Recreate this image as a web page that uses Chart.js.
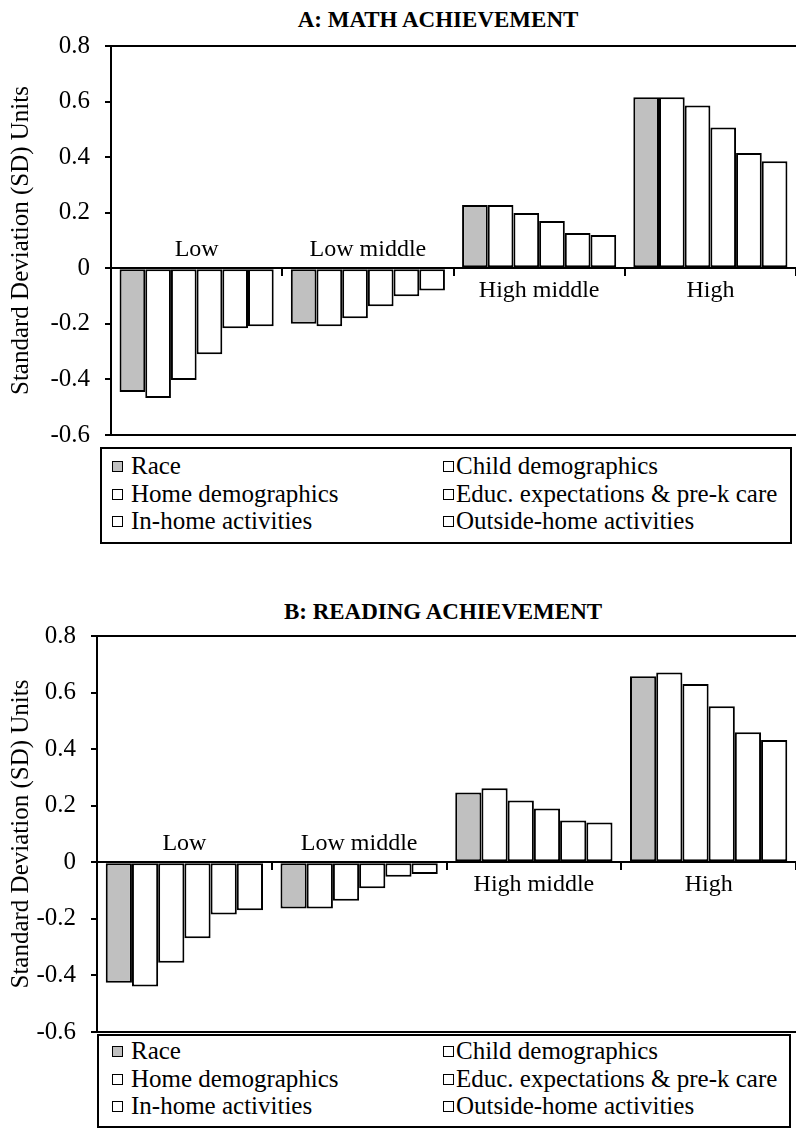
<!DOCTYPE html>
<html><head><meta charset="utf-8">
<script src="https://cdn.jsdelivr.net/npm/chart.js@4"></script>
<style>
html,body{margin:0;padding:0;background:#fff;overflow:hidden;width:796px;height:1130px;}
#page{position:relative;width:796px;height:1130px;font-family:"Liberation Serif","Times New Roman",serif;color:#000;overflow:hidden;}
.title{position:absolute;font-weight:bold;font-size:23px;line-height:1;white-space:nowrap;transform:translateX(-50%);}
.cwrap{position:absolute;left:0;width:796px;}
.legend{position:absolute;border:2px solid #000;box-sizing:border-box;font-size:25px;background:#fff;}
.txt{position:absolute;white-space:nowrap;line-height:1;}
.sw{position:absolute;width:11px;height:11px;border:1.5px solid #000;box-sizing:border-box;}
</style></head>
<body>
<div id="page">
  <div class="title" id="titleA" style="left:438px;top:8px;">A: MATH ACHIEVEMENT</div>
  <div class="cwrap" style="top:0;height:465px;"><canvas id="chartA"></canvas></div>
  <div class="legend" id="legendA" style="left:100px;top:447px;width:692px;height:97px;"></div>

  <div class="title" id="titleB" style="left:443px;top:600px;">B: READING ACHIEVEMENT</div>
  <div class="cwrap" style="top:590px;height:472px;"><canvas id="chartB"></canvas></div>
  <div class="legend" id="legendB" style="left:97px;top:1034px;width:694px;height:94px;"></div>
</div>
<script>
// ---------- data ----------
const categories = ['Low', 'Low middle', 'High middle', 'High'];
const seriesNames = ['Race', 'Child demographics', 'Home demographics',
  'Educ. expectations & pre-k care', 'In-home activities', 'Outside-home activities'];
const seriesColors = ['#c0c0c0', '#ffffff', '#ffffff', '#ffffff', '#ffffff', '#ffffff'];

const yTickValues = [-0.6, -0.4, -0.2, 0, 0.2, 0.4, 0.6, 0.8];
const yTickLabels = ['-0.6', '-0.4', '-0.2', '0', '0.2', '0.4', '0.6', '0.8'];
const yAxisTitle = 'Standard Deviation (SD) Units';

// Panel A: math achievement
const mathRace    = [-0.445, -0.200, 0.228, 0.616];
const mathChild   = [-0.467, -0.209, 0.228, 0.616];
const mathHome    = [-0.402, -0.180, 0.199, 0.586];
const mathEduc    = [-0.309, -0.137, 0.170, 0.507];
const mathInHome  = [-0.216, -0.101, 0.127, 0.415];
const mathOutside = [-0.209, -0.080, 0.120, 0.385];

// Panel B: reading achievement
const readRace    = [-0.426, -0.163, 0.247, 0.658];
const readChild   = [-0.439, -0.163, 0.262, 0.671];
const readHome    = [-0.355, -0.136, 0.218, 0.630];
const readEduc    = [-0.269, -0.092, 0.190, 0.552];
const readInHome  = [-0.185, -0.051, 0.148, 0.460];
const readOutside = [-0.170, -0.041, 0.141, 0.432];

// ---------- helpers ----------
const FONT = '"Liberation Serif", "Times New Roman", serif';

const catLabelPlugin = {
  id: 'catLabels',
  afterDraw(chart) {
    const {ctx, scales: {x, y}} = chart;
    const zero = y.getPixelForValue(0);
    ctx.save();
    ctx.font = '24px ' + FONT;
    ctx.fillStyle = '#000';
    ctx.textAlign = 'center';
    ctx.textBaseline = 'alphabetic';
    chart.data.labels.forEach((lab, i) => {
      const vals = chart.data.datasets.map(d => d.data[i]);
      const neg = Math.min(...vals) < 0;
      ctx.fillText(lab, x.getPixelForValue(i), neg ? zero - 12 : zero + 29);
    });
    ctx.restore();
  }
};

function makeChart(id, seriesData, axisWidth) {
  const yMin = yTickValues[0], yMax = yTickValues[yTickValues.length - 1];
  return new Chart(document.getElementById(id), {
    type: 'bar',
    data: {
      labels: categories,
      datasets: seriesNames.map((name, i) => ({
        label: name,
        data: seriesData[i],
        backgroundColor: seriesColors[i],
        borderColor: '#000',
        borderWidth: 2,
        borderSkipped: false,
        categoryPercentage: 0.9,
        barPercentage: 1.0
      }))
    },
    options: {
      responsive: true,
      maintainAspectRatio: false,
      animation: false,
      layout: {padding: {top: 46, bottom: 5, left: 0, right: 0}},
      plugins: {legend: {display: false}, tooltip: {enabled: false}, title: {display: false}},
      scales: {
        x: {
          position: {y: 0},
          afterFit: (s) => { s.height = 0; },
          ticks: {display: false},
          grid: {display: true, drawOnChartArea: false, offset: true, tickLength: 7,
                 color: '#000', lineWidth: 2},
          border: {display: true, color: '#000', width: 2}
        },
        y: {
          min: yMin, max: yMax,
          afterBuildTicks: (s) => { s.ticks = yTickValues.map(v => ({value: v})); },
          afterFit: (s) => { s.width = axisWidth; },
          ticks: {
            callback: (v, i) => yTickLabels[i],
            font: {family: FONT, size: 25},
            color: '#000',
            padding: 15
          },
          grid: {
            color: (c) => (c.tick && (c.tick.value === yMin || c.tick.value === yMax)) ? '#000' : 'rgba(0,0,0,0)',
            lineWidth: 2, tickColor: '#000', tickLength: 6, tickWidth: 2
          },
          border: {display: true, color: '#000', width: 2},
          title: {
            display: true, text: yAxisTitle, color: '#000',
            font: {family: FONT, size: 25, lineHeight: 1},
            padding: {top: 9, bottom: 0}
          }
        }
      }
    },
    plugins: [catLabelPlugin]
  });
}

function buildLegend(id, rowCenters) {
  const box = document.getElementById(id);
  const boxLeft = parseFloat(box.style.left);
  const col = [{sq: 112, tx: 131}, {sq: 443, tx: 456}];
  seriesNames.forEach((name, i) => {
    const r = Math.floor(i / 2), c = i % 2;
    const cy = rowCenters[r];
    const sw = document.createElement('div');
    sw.className = 'sw';
    sw.style.left = (col[c].sq - boxLeft - 2) + 'px';
    sw.style.top = (cy - 5) + 'px';
    sw.style.background = seriesColors[i];
    box.appendChild(sw);
    const t = document.createElement('div');
    t.className = 'txt';
    t.textContent = name;
    t.style.left = (col[c].tx - boxLeft - 2) + 'px';
    t.style.top = (cy - 13) + 'px';
    box.appendChild(t);
  });
}

makeChart('chartA', [mathRace, mathChild, mathHome, mathEduc, mathInHome, mathOutside], 111);
makeChart('chartB', [readRace, readChild, readHome, readEduc, readInHome, readOutside], 97);
buildLegend('legendA', [17, 45, 72]);
buildLegend('legendB', [15, 43, 70]);
</script>
</body></html>
